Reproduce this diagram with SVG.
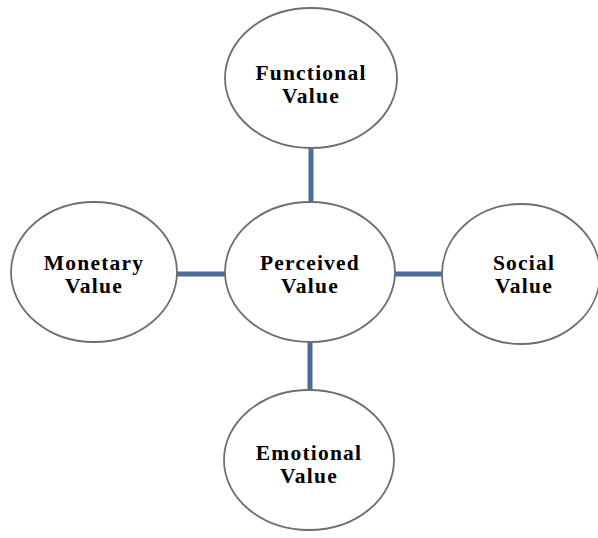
<svg xmlns="http://www.w3.org/2000/svg" width="598" height="538" viewBox="0 0 598 538">
<style>
.node ellipse{fill:#ffffff;stroke:#6e6e6e;stroke-width:1.8}
.node text{font-family:"Liberation Serif","Times New Roman",serif;font-weight:bold;font-size:21.5px;letter-spacing:1.2px;fill:#000;text-anchor:middle}
.conn line{stroke:#4a6d9c;stroke-width:5}
</style>
<rect width="598" height="538" fill="#ffffff"/>
<g id="connectors" class="conn">
<line x1="311" y1="147" x2="311" y2="204"/>
<line x1="176" y1="274" x2="228" y2="274"/>
<line x1="392" y1="274" x2="443" y2="274"/>
<line x1="310" y1="341" x2="310" y2="392"/>
</g>
<g id="functional" class="node">
<ellipse cx="311" cy="78" rx="86" ry="70"/>
<text x="311" y="80">Functional</text>
<text x="311" y="103">Value</text>
</g>
<g id="perceived" class="node">
<ellipse cx="310" cy="272" rx="85" ry="70"/>
<text x="310" y="270">Perceived</text>
<text x="310" y="293">Value</text>
</g>
<g id="monetary" class="node">
<ellipse cx="94" cy="272" rx="83" ry="70"/>
<text x="94" y="270">Monetary</text>
<text x="94" y="293">Value</text>
</g>
<g id="social" class="node">
<ellipse cx="521" cy="274" rx="79" ry="70"/>
<text x="524" y="270">Social</text>
<text x="524" y="293">Value</text>
</g>
<g id="emotional" class="node">
<ellipse cx="309" cy="460" rx="85" ry="70"/>
<text x="309" y="460">Emotional</text>
<text x="309" y="483">Value</text>
</g>
</svg>
